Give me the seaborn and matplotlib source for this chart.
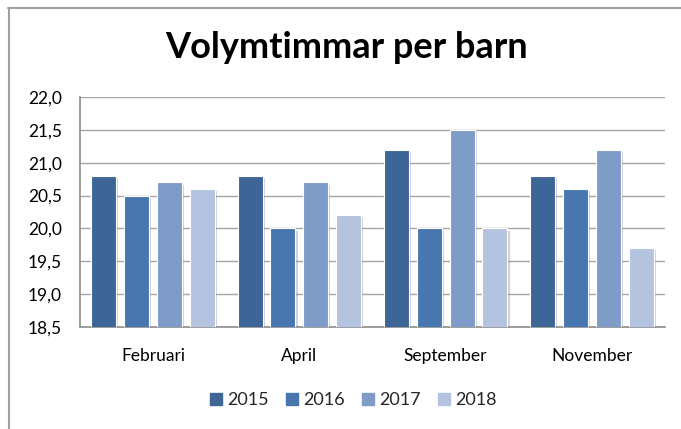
import matplotlib
matplotlib.use("Agg")
import matplotlib.pyplot as plt
import matplotlib.patheffects as pe
from matplotlib.lines import Line2D
import seaborn as sns
import pandas as pd

categories = ["Februari", "April", "September", "November"]
years = ["2015", "2016", "2017", "2018"]
v2015 = [20.8, 20.8, 21.2, 20.8]
v2016 = [20.5, 20.0, 20.0, 20.6]
v2017 = [20.7, 20.7, 21.5, 21.2]
v2018 = [20.6, 20.2, 20.0, 19.7]
yticks = [18.5, 19.0, 19.5, 20.0, 20.5, 21.0, 21.5, 22.0]
colors = ["#3D6596", "#4877B0", "#7F9CC9", "#B3C3E0"]

rows = []
for y, vals in zip(years, [v2015, v2016, v2017, v2018]):
    for c, v in zip(categories, vals):
        rows.append({"Månad": c, "År": y, "Värde": v})
df = pd.DataFrame(rows)

sns.set_theme(style="white")
plt.rcParams["font.family"] = ["Lato", "DejaVu Sans"]

fig = plt.figure(figsize=(6.81, 4.29), dpi=100)
ax = fig.add_axes([80/681, 1-327/429, 585/681, 230/429])

sns.barplot(data=df, x="Månad", y="Värde", hue="År", order=categories,
            hue_order=years, palette=colors, saturation=1, width=0.9, gap=0.24,
            edgecolor="white", linewidth=0.8, ax=ax, zorder=3)
for p in ax.patches:
    p.set_path_effects([pe.SimplePatchShadow(offset=(1.5, -1.5), shadow_rgbFace="#808080", alpha=0.35), pe.Normal()])

ax.set_ylim(18.5, 22.0)
ax.set_yticks(yticks)
ax.set_yticklabels([f"{t:.1f}".replace(".", ",") for t in yticks])
ax.set_xlim(-0.5, 3.5)
ax.yaxis.grid(True, color="#A6A6A6", linewidth=1.0, zorder=0)
ax.set_axisbelow(True)
ax.set_xlabel("")
ax.set_ylabel("")
for s in ["top", "right"]:
    ax.spines[s].set_visible(False)
ax.spines["left"].set_color("#8C8C8C")
ax.spines["bottom"].set_color("#8C8C8C")
ax.spines["left"].set_linewidth(1.2)
ax.spines["bottom"].set_linewidth(1.2)
ax.tick_params(axis="y", labelsize=12.5, pad=13, length=0, colors="black")
ax.tick_params(axis="x", labelsize=12.5, pad=15, length=0, colors="black")

fig.text(347/681, 1-48/429, "Volymtimmar per barn", ha="center", va="center",
         fontsize=26, fontweight="bold", color="black")

handles = [plt.Line2D([], [], marker="s", linestyle="", markersize=8,
                      markerfacecolor=c, markeredgecolor=c) for c in colors]
ax.get_legend().remove()
fig.legend(handles, years, loc="center", bbox_to_anchor=(352/681, 1-400/429),
           ncol=4, frameon=False, fontsize=13, handletextpad=0.1, columnspacing=0.8,
           handlelength=1.0)

fig.add_artist(Line2D([8/681, 1.0], [1-8/429, 1-8/429], color="#A0A0A0", linewidth=1.5, transform=fig.transFigure))
fig.add_artist(Line2D([9/681, 9/681], [1-8/429, 0.0], color="#A0A0A0", linewidth=1.5, transform=fig.transFigure))

fig.savefig("out.png", dpi=100)
